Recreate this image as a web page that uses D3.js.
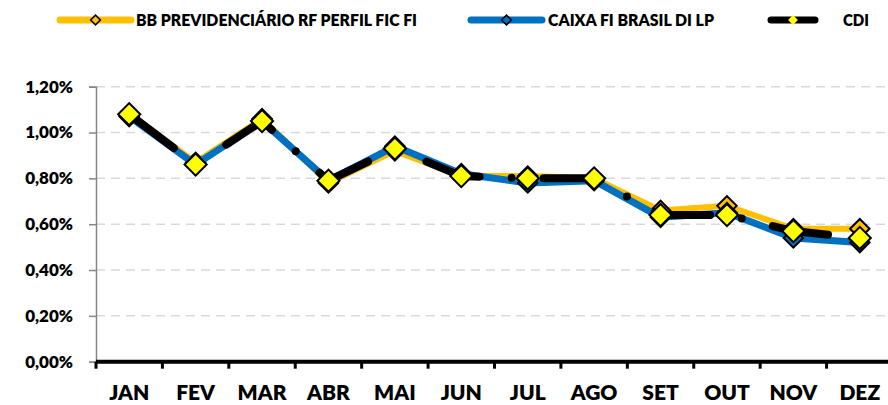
<!DOCTYPE html>
<html>
<head>
<meta charset="utf-8">
<script src="https://cdn.jsdelivr.net/npm/d3@7"></script>
<style>
	body { margin:0; background:#fff; }
	svg { display:block; font-family:Lato, "Open Sans", sans-serif; font-weight:800; }
</style>
</head>
<body>
<svg id="chart" width="888" height="405"></svg>
<script>
// data
var months = ["JAN","FEV","MAR","ABR","MAI","JUN","JUL","AGO","SET","OUT","NOV","DEZ"];
var bbValues = [1.08, 0.87, 1.06, 0.78, 0.92, 0.81, 0.81, 0.80, 0.66, 0.68, 0.58, 0.58];
var caixaValues = [1.07, 0.86, 1.05, 0.79, 0.94, 0.82, 0.78, 0.79, 0.63, 0.65, 0.54, 0.52];
var cdiValues = [1.08, 0.86, 1.05, 0.79, 0.93, 0.81, 0.80, 0.80, 0.64, 0.64, 0.57, 0.54];
var yTicks = [0, 0.2, 0.4, 0.6, 0.8, 1.0, 1.2];
var seriesNames = ["BB PREVIDENCIÁRIO RF PERFIL FIC FI", "CAIXA FI BRASIL DI LP", "CDI"];

var svg = d3.select("#chart");

var x = d3.scaleBand().domain(months).range([96, 893]).padding(0);
var y = d3.scaleLinear().domain([0, 1.2]).range([361.7, 86.7]);

function cx(i) {
	return x(months[i]) + x.bandwidth() / 2;
}
function pct(v) {
	return d3.format(".2f")(v).replace(".", ",") + "%";
}

// grid
svg.append("g")
	.selectAll("line")
	.data(yTicks.slice(1))
	.join("line")
	.attr("x1", 96).attr("x2", 888)
	.attr("y1", function(d) { return y(d); })
	.attr("y2", function(d) { return y(d); })
	.attr("stroke", "#d9d9d9")
	.attr("stroke-width", 1.5)
	.attr("stroke-dasharray", "9,6");

// y axis
var yAxis = svg.append("g")
	.attr("transform", "translate(96,0)")
	.call(d3.axisLeft(y).tickValues(yTicks).tickSize(7).tickPadding(16).tickFormat(pct));
yAxis.select(".domain").attr("stroke", "#868686").attr("stroke-width", 1.5);
yAxis.selectAll(".tick line").attr("stroke", "#868686").attr("stroke-width", 1.5);
yAxis.selectAll("text")
	.attr("font-size", 17)
	.attr("font-family", "Lato")
	.attr("font-weight", 800)
	.attr("fill", "#000");

// x axis
var xAxis = svg.append("g")
	.attr("transform", "translate(0," + y(0) + ")")
	.call(d3.axisBottom(x).tickSize(0).tickPadding(23));
xAxis.select(".domain").remove();
xAxis.selectAll("text")
	.attr("font-size", 21)
	.attr("font-family", "Lato")
	.attr("font-weight", 800)
	.attr("fill", "#000");
svg.append("line")
	.attr("x1", 96).attr("x2", 888)
	.attr("y1", y(0)).attr("y2", y(0))
	.attr("stroke", "#000").attr("stroke-width", 4);
svg.append("g")
	.selectAll("line")
	.data(months)
	.join("line")
	.attr("x1", function(d) { return x(d); })
	.attr("x2", function(d) { return x(d); })
	.attr("y1", y(0)).attr("y2", y(0) + 7)
	.attr("stroke", "#000").attr("stroke-width", 3);

// series
var line = d3.line()
	.x(function(d, i) { return cx(i); })
	.y(function(d) { return y(d); });

var diamond = d3.symbol().type(d3.symbolSquare).size(245);
var smallDiamond = d3.symbol().type(d3.symbolSquare).size(48);

function drawSeries(values, color, width, dash, fill, msize) {
	svg.append("path")
		.datum(values)
		.attr("d", line)
		.attr("fill", "none")
		.attr("stroke", color)
		.attr("stroke-width", width)
		.attr("stroke-linejoin", "round")
		.attr("stroke-linecap", "round")
		.attr("stroke-dasharray", dash);
	svg.append("g")
		.selectAll("path")
		.data(values)
		.join("path")
		.attr("d", d3.symbol().type(d3.symbolSquare).size(msize))
		.attr("transform", function(d, i) { return "translate(" + cx(i) + "," + y(d) + ") rotate(45)"; })
		.attr("fill", fill)
		.attr("stroke", "#000")
		.attr("stroke-width", 2);
}

drawSeries(bbValues, "#ffc000", 6, null, "#ffc000", 190);
drawSeries(caixaValues, "#0070c0", 7, null, "#0070c0", 190);
drawSeries(cdiValues, "#000", 8, "56,32,0,32", "#ffff00", 245);

// legend
var legend = [
	{name:seriesNames[0], color:"#ffc000", fill:"#ffc000", x1:60, x2:131, tx:136, tw:281},
	{name:seriesNames[1], color:"#0070c0", fill:"#0070c0", x1:471, x2:542, tx:548, tw:166},
	{name:seriesNames[2], color:"#000", fill:"#ffff00", x1:771, x2:815, tx:843, tw:26}
];
var lg = svg.append("g").selectAll("g").data(legend).join("g");
lg.append("line")
	.attr("x1", function(d) { return d.x1; })
	.attr("x2", function(d) { return d.x2; })
	.attr("y1", 20).attr("y2", 20)
	.attr("stroke", function(d) { return d.color; })
	.attr("stroke-width", 7)
	.attr("stroke-linecap", "round");
lg.append("path")
	.attr("d", smallDiamond)
	.attr("transform", function(d) { return "translate(" + ((d.x1 + d.x2) / 2) + ",20) rotate(45)"; })
	.attr("fill", function(d) { return d.fill; })
	.attr("stroke", function(d) { return d.color == "#000" ? "none" : "#000"; })
	.attr("stroke-width", 1.5);
lg.append("text")
	.attr("x", function(d) { return d.tx; })
	.attr("y", 20)
	.attr("dy", "0.36em")
	.attr("font-size", 16)
	.attr("textLength", function(d) { return d.tw; })
	.attr("lengthAdjust", "spacingAndGlyphs")
	.text(function(d) { return d.name; });
</script>
</body>
</html>
